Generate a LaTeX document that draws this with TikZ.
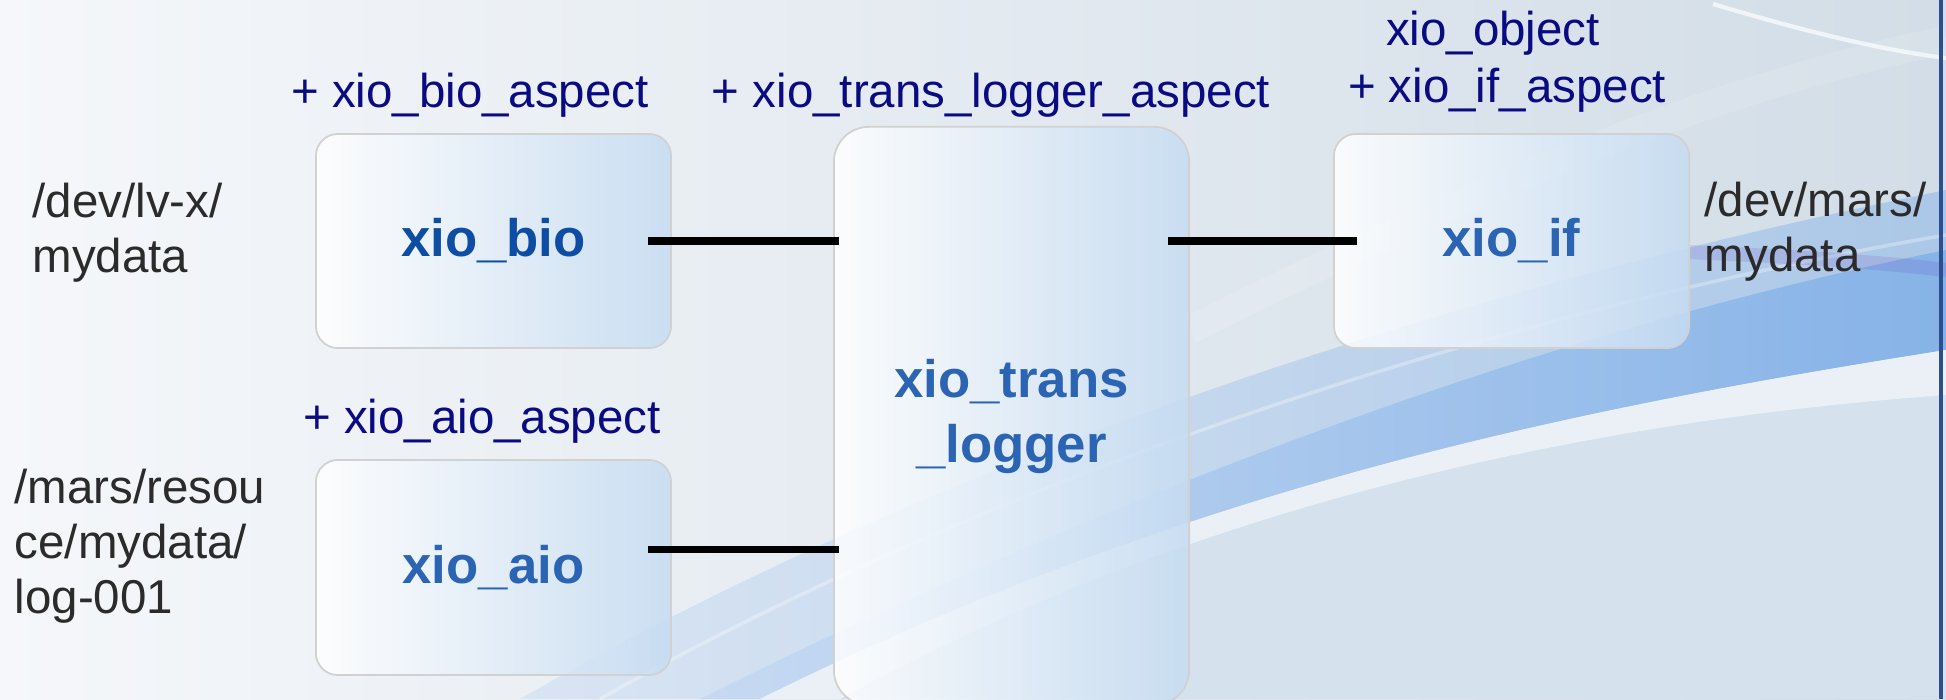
\documentclass[tikz,border=0pt]{standalone}
\usepackage{fontspec}
\setmainfont{Liberation Sans}
\usepackage{xcolor}
\usepackage{tikz}
\usetikzlibrary{calc}

\definecolor{aspectnavy}{HTML}{0A0A82}
\definecolor{pathgray}{HTML}{2B2B2B}
\definecolor{biotext}{HTML}{0E4DA4}
\definecolor{modtext}{HTML}{2C64B4}
\definecolor{boxblue}{HTML}{C6DCF2}
\definecolor{bgleft}{HTML}{F5F7FA}
\definecolor{bgright}{HTML}{D2DDE7}
\definecolor{bandlight}{HTML}{C4D8F2}
\definecolor{banddeep}{HTML}{7DAEE8}
\definecolor{lowgray}{HTML}{D5E1EC}
\definecolor{edgeblue}{HTML}{2B4F8E}

\begin{document}
\begin{tikzpicture}[x=0.01cm, y=-0.01cm,
    modbox/.style={rounded corners=0.22cm, draw=black!18, line width=0.5pt,
      left color=white, right color=boxblue, fill opacity=0.85, text opacity=1,
      minimum width=3.55cm, minimum height=2.14cm, inner sep=0pt, align=center,
      text=modtext, font=\bfseries\fontsize{15}{18.5}\selectfont},
    aspectlabel/.style={text=aspectnavy, inner sep=0pt, anchor=base,
      font=\fontsize{13.5}{15.6}\selectfont},
    pathlabel/.style={text=pathgray, inner sep=0pt, anchor=base west, align=left,
      font=\fontsize{13.5}{15.6}\selectfont},
    wire/.style={line width=2pt, black}]
      \useasboundingbox (0,0) rectangle (1946,699);
      \shade[left color=bgleft, right color=bgright] (0,0) rectangle (1946,699);
      \shade[left color=bandlight, right color=banddeep, opacity=0.45] (520,699) .. controls (900,480) and (1400,300) .. (1946,190)
        -- (1946,350) .. controls (1600,405) and (1200,480) .. (760,699) -- cycle;
      \shade[left color=bandlight, right color=banddeep, opacity=0.8] (700,699) .. controls (1060,520) and (1500,340) .. (1946,250)
        -- (1946,350) .. controls (1600,405) and (1200,480) .. (760,699) -- cycle;
      \fill[lowgray] (760,699) .. controls (1200,480) and (1600,405) .. (1946,350) -- (1946,699) -- cycle;
      \fill[white, opacity=0.5] (760,699) .. controls (1200,480) and (1600,405) .. (1946,350)
        -- (1946,395) .. controls (1600,420) and (1200,500) .. (840,699) -- cycle;
      \draw[white, line width=1pt, opacity=0.3] (600,699) .. controls (950,500) and (1450,320) .. (1946,235);
      \draw[blue!40!violet, line width=4pt, opacity=0.1] (1690,252) .. controls (1800,257) and (1880,262) .. (1946,270);
      \draw[white, line width=1.2pt, opacity=0.7] (1713,4) .. controls (1800,30) and (1880,50) .. (1946,58);
      \draw[white, line width=8pt, opacity=0.12] (1190,330) .. controls (1450,200) and (1700,90) .. (1946,40);
      \draw[edgeblue, line width=1pt] (1941,0) -- (1941,699);

      \node[modbox, text=biotext] (bio) at (493.5,241) {xio\_bio};
      \node[modbox, minimum height=2.15cm] (aio) at (493.5,567.5) {xio\_aio};
      \node[modbox, minimum height=5.78cm, rounded corners=0.35cm] (logger) at (1011.5,416) {xio\_trans\\\_logger};
      \node[modbox] (iface) at (1511.5,241) {xio\_if};

      \draw[wire] ($(bio.east)+(-24,0)$) -- ($(logger.west |- bio.east)+(6,0)$);
      \draw[wire] ($(aio.east)+(-24,-18)$) -- ($(logger.west |- aio.east)+(6,-18)$);
      \draw[wire] ($(logger.east |- iface.west)+(-22,0)$) -- ($(iface.west)+(24,0)$);

      \node[aspectlabel] (bioasp) at (470,107) {+ xio\_bio\_aspect};
      \node[aspectlabel] (loggerasp) at (991,107) {+ xio\_trans\_logger\_aspect};
      \node[aspectlabel] (ifobj) at (1493,45) {xio\_object};
      \node[aspectlabel] (ifasp) at (1507,102) {+ xio\_if\_aspect};
      \node[aspectlabel] (aioasp) at (482,433) {+ xio\_aio\_aspect};

      \node[pathlabel] (lvpath) at (32,272) {/dev/lv-x/\\mydata};
      \node[pathlabel] (logpath) at (14,613) {/mars/resou\\ce/mydata/\\log-001};
      \node[pathlabel] (marspath) at (1704,271) {/dev/mars/\\mydata};
\end{tikzpicture}
\end{document}
